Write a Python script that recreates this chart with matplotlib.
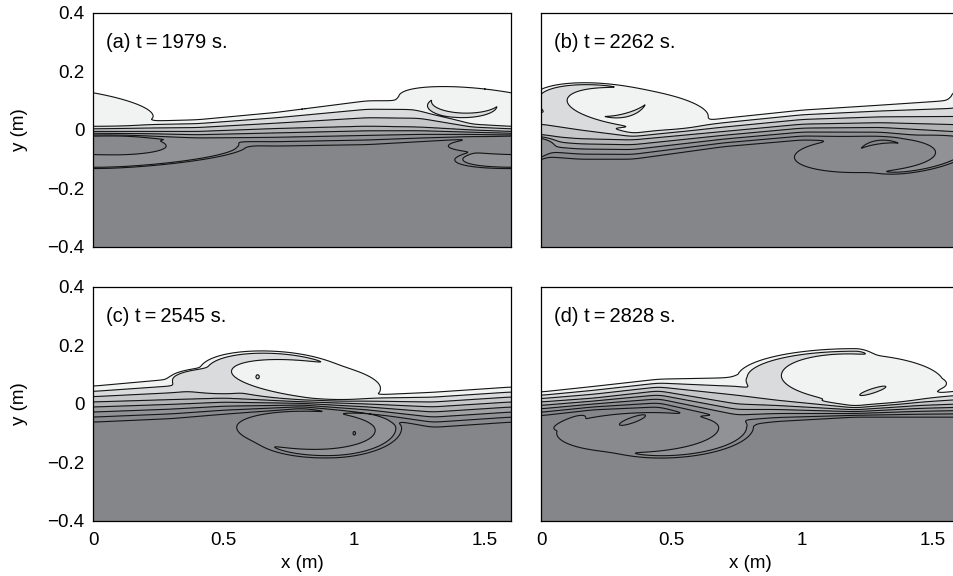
import numpy as np
import matplotlib.pyplot as plt

plt.rcParams['font.family'] = ['Liberation Sans', 'DejaVu Sans']

# snapshots
letters = ['a', 'b', 'c', 'd']
times = [1979, 2262, 2545, 2828]

# interface: x knots, top line, 4th line, bottom line (m)
xk_a = [0.0, 0.2, 0.4, 0.7, 1.05, 1.25, 1.45, 1.6]
top_a = [0.022, 0.03, 0.035, 0.06, 0.10, 0.10, 0.03, 0.022]
mid_a = [-0.005, -0.005, -0.005, 0.005, 0.013, 0.01, 0.0, -0.005]
bot_a = [-0.03, -0.035, -0.05, -0.055, -0.05, -0.04, -0.03, -0.03]

xk_b = [0.0, 0.15, 0.35, 0.7, 1.0, 1.3, 1.6]
top_b = [0.10, 0.06, 0.0, 0.04, 0.068, 0.085, 0.103]
mid_b = [-0.02, -0.03, -0.034, -0.005, 0.02, 0.025, 0.018]
bot_b = [-0.09, -0.1, -0.1, -0.057, -0.034, -0.04, -0.08]

xk_c = [0.0, 0.3, 0.5, 0.8, 1.05, 1.3, 1.6]
top_c = [0.061, 0.085, 0.12, 0.03, 0.03, 0.04, 0.058]
mid_c = [0.007, 0.015, 0.02, 0.008, 0.0, -0.01, 0.007]
bot_c = [-0.062, -0.05, -0.035, -0.015, -0.04, -0.08, -0.062]

xk_d = [0.0, 0.2, 0.45, 0.75, 0.9, 1.2, 1.45, 1.6]
top_d = [0.041, 0.06, 0.085, 0.09, 0.05, 0.0, 0.03, 0.045]
mid_d = [0.007, 0.02, 0.045, 0.0, -0.005, -0.02, -0.005, 0.0]
bot_d = [-0.04, -0.02, -0.01, -0.075, -0.06, -0.045, -0.045, -0.045]

# billows (rim then core): xc, yc, a_left, a_right, b_top, b_bottom, tilt, level value
eyes_a = [(1.50, 0.08, 0.33, 0.33, 0.06, 0.055, -0.1, 1),
          (0.15, -0.08, 0.35, 0.42, 0.04, 0.045, 0.06, 6),
          (0.08, -0.055, 0.32, 0.20, 0.035, 0.03, 0.0, 7)]
eyes_b = [(0.25, 0.085, 0.27, 0.28, 0.07, 0.075, -0.08, 2),
          (0.36, 0.075, 0.26, 0.28, 0.065, 0.065, -0.1, 1),
          (0.60, 0.035, 0.06, 0.04, 0.015, 0.015, 0.0, 1),
          (1.40, -0.075, 0.20, 0.25, 0.05, 0.07, 0.1, 6),
          (1.24, -0.085, 0.27, 0.27, 0.06, 0.06, 0.03, 7)]
eyes_c = [(0.50, 0.085, 0.20, 0.15, 0.04, 0.05, 0.0, 2),
          (0.72, 0.09, 0.30, 0.28, 0.085, 0.07, -0.07, 2),
          (0.84, 0.08, 0.31, 0.26, 0.065, 0.06, -0.1, 1),
          (1.06, 0.045, 0.06, 0.035, 0.018, 0.015, 0.0, 1),
          (0.92, -0.09, 0.30, 0.25, 0.06, 0.09, 0.03, 6),
          (0.83, -0.085, 0.28, 0.25, 0.06, 0.07, -0.02, 7),
          (0.63, 0.093, 0.006, 0.006, 0.007, 0.007, 0.0, 2),
          (1.00, -0.10, 0.005, 0.005, 0.006, 0.006, 0.0, 8)]
eyes_d = [(1.20, 0.09, 0.43, 0.12, 0.095, 0.08, 0.0, 2),
          (1.22, 0.085, 0.30, 0.32, 0.085, 0.08, -0.04, 1),
          (1.50, 0.07, 0.10, 0.05, 0.02, 0.02, 0.0, 1),
          (1.27, 0.045, 0.05, 0.05, 0.008, 0.008, 0.28, 2),
          (0.50, -0.09, 0.30, 0.30, 0.05, 0.09, 0.04, 6),
          (0.38, -0.09, 0.32, 0.30, 0.06, 0.075, 0.03, 7),
          (0.12, -0.06, 0.07, 0.05, 0.015, 0.02, 0.3, 7),
          (0.35, -0.055, 0.05, 0.05, 0.01, 0.01, 0.3, 8)]

# thin tongues: xc, yc, rx, ry, angle from, angle to, half width, value, taper
arcs_a = [(1.42, 0.09, 0.13, 0.04, 162, 346, 0.008, 2, 2)]
arcs_b = [(0.27, 0.13, 0.15, 0.085, 259, 330, 0.006, 2, 2),
          (1.32, -0.10, 0.12, 0.06, 66, 143, 0.006, 8, 2)]
arcs_c = []
arcs_d = []

panels = [(xk_a, top_a, mid_a, bot_a, eyes_a, arcs_a),
          (xk_b, top_b, mid_b, bot_b, eyes_b, arcs_b),
          (xk_c, top_c, mid_c, bot_c, eyes_c, arcs_c),
          (xk_d, top_d, mid_d, bot_d, eyes_d, arcs_d)]

greys = ['#ffffff', '#f1f2f2', '#dadbdc', '#c6c7c9', '#b2b3b5',
         '#a0a1a3', '#919295', '#898a8d', '#85868a']

L = 1.6
x = np.linspace(0, L, 641)
y = np.linspace(-0.4, 0.4, 561)
X, Y = np.meshgrid(x, y)


def smooth(v, n=41):
    k = np.hanning(n)
    k /= k.sum()
    return np.convolve(np.pad(v, n // 2, mode='edge'), k, mode='valid')


def base_field(xk, top, mid, bot):
    T = smooth(np.interp(x, xk, top))[None, :]
    M = smooth(np.interp(x, xk, mid))[None, :]
    B = smooth(np.interp(x, xk, bot))[None, :]
    up = 0.5 + 3 * (T - Y) / (T - M)
    lo = 3.5 + 4 * (M - Y) / (M - B)
    return np.clip(np.where(Y > M, up, lo), 0, 8)


def eye_weight(e):
    xc, yc, aL, aR, bT, bB, tilt, val = e
    g = np.zeros_like(X)
    for sh in (-L, 0, L):
        dx = X - (xc + sh)
        dy = Y - (yc + tilt * dx)
        ax_ = np.where(dx < 0, aL, aR)
        by_ = np.where(dy > 0, bT, bB)
        r = np.hypot(dx / ax_, dy / by_)
        g = np.maximum(g, 0.5 * (1 - np.tanh((r - 1) / 0.08)))
    return g


def arc_weight(a):
    xc, yc, rx, ry, th1, th2, hw, val, taper = a
    u = (X - xc) / rx
    v = (Y - yc) / ry
    rr = np.hypot(u, v)
    th = np.degrees(np.arctan2(v, u))
    s = ((th - th1) % 360) / (th2 - th1)
    inside = s <= 1
    s = np.clip(s, 0, 1)
    prof = np.sin(np.pi * s) if taper == 2 else np.sin(np.pi / 2 * s)
    d = np.abs(rr - 1) * ry
    return 0.5 * (1 + np.tanh((hw * prof - d) / 0.0015)) * inside


fig = plt.figure(figsize=(9.54, 5.76), dpi=100)
pos = [(0.0975, 0.5712), (0.5671, 0.5712), (0.0975, 0.0955), (0.5671, 0.0955)]

for i, (xk, top, mid, bot, eyes, arcs) in enumerate(panels):
    F = base_field(xk, top, mid, bot)
    for e in eyes:
        g = eye_weight(e)
        F = F * (1 - g) + e[-1] * g
    for a in arcs:
        g = arc_weight(a)
        F = F * (1 - g) + a[7] * g

    ax = fig.add_axes([pos[i][0], pos[i][1], 0.4382, 0.40625])
    ax.contourf(X, Y, F, levels=[-1] + list(np.arange(0.5, 8, 1)) + [9], colors=greys)
    ax.contour(X, Y, F, levels=np.arange(0.5, 8, 1), colors='#141414', linewidths=0.8)
    ax.set_xlim(0, L)
    ax.set_ylim(-0.4, 0.4)
    ax.text(0.032, 0.875, '(%s) t\u2009=\u2009%d s.' % (letters[i], times[i]),
            transform=ax.transAxes, fontsize=14.5, va='center')
    ax.tick_params(length=0, labelsize=13.5)
    ax.tick_params(axis='x', pad=8)
    ax.tick_params(axis='y', pad=6)
    ax.set_xticks([0, 0.5, 1, 1.5])
    ax.set_yticks([-0.4, -0.2, 0, 0.2, 0.4])
    if i % 2 == 0:
        ax.set_yticklabels(['\u22120.4', '\u22120.2', '0', '0.2', '0.4'])
        ax.set_ylabel('y (m)', fontsize=13.5)
        ax.yaxis.set_label_coords(-0.155, 0.5)
    else:
        ax.set_yticklabels([])
    if i >= 2:
        ax.set_xticklabels(['0', '0.5', '1', '1.5'])
        ax.set_xlabel('x (m)', fontsize=13.5)
        ax.xaxis.set_label_coords(0.5, -0.145)
    else:
        ax.set_xticklabels([])
    for sp in ax.spines.values():
        sp.set_linewidth(0.9)

fig.savefig('out.png', dpi=100)
